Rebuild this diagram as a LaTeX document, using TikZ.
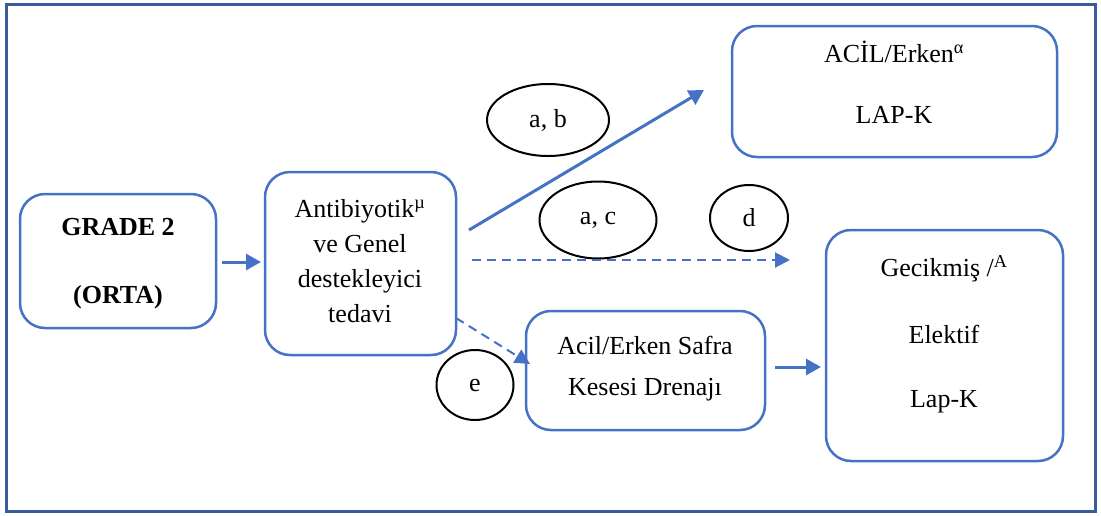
\documentclass[tikz,border=0pt]{standalone}
\usepackage{fontspec}
\setmainfont{Liberation Serif}
\usetikzlibrary{arrows.meta,shapes.geometric}
\definecolor{bl}{HTML}{4472C4}
\definecolor{fr}{HTML}{3A5C9E}
\begin{document}
\begin{tikzpicture}[x=1pt,y=-1pt,
  box/.style={draw=bl,line width=2.5pt,rounded corners=25pt,inner sep=0pt},
  txt/.style={font=\fontsize{26}{35}\selectfont,inner sep=0pt,align=center},
  ell/.style={draw=black,line width=2pt,ellipse,inner sep=0pt,font=\fontsize{26}{30}\selectfont},
  arr/.style={draw=bl,line width=3pt,-{Triangle[length=15pt,width=16pt]}},
  darr/.style={draw=bl,line width=2pt,dash pattern=on 9pt off 6pt,-{Triangle[length=15pt,width=15pt]}}]
\useasboundingbox (0,0) rectangle (1101,515);
\draw[fr,line width=3pt] (6,4) rectangle (1095,511);
% boxes
\node[box,minimum width=196pt,minimum height=134pt] (grade) at (118,261) {};
\node[box,minimum width=191pt,minimum height=183pt] (anti) at (360.5,263.5) {};
\node[box,minimum width=325pt,minimum height=131pt] (acil) at (894.5,91.5) {};
\node[box,minimum width=237pt,minimum height=231pt] (gec) at (944.5,345.5) {};
\node[box,minimum width=239pt,minimum height=119pt] (safra) at (645.5,370.5) {};
% texts
\node[txt,font=\fontsize{26}{35}\selectfont\bfseries] (t1) at (118,227) {GRADE 2};
\node[txt,font=\fontsize{26}{35}\selectfont\bfseries] (t2) at (118,297) {(ORTA)};
\node[txt] (t3) at (360,261) {Antibiyotik\textsuperscript{µ}\\ve Genel\\destekleyici\\tedavi};
\node[txt] (t4) at (894,52) {ACİL/Erken\textsuperscript{α}};
\node[txt] (t5) at (894,115) {LAP-K};
\node[txt] (t6) at (944,269) {Gecikmiş /\textsuperscript{A}};
\node[txt] (t7) at (944,334) {Elektif};
\node[txt] (t8) at (944,402) {Lap-K};
\node[txt] (t9) at (645,345) {Acil/Erken Safra};
\node[txt] (t10) at (645,390) {Kesesi Drenajı};
% ellipses
\node[ell,minimum width=122pt,minimum height=72pt] (eab) at (548,120) {a, b};
\node[ell,minimum width=117pt,minimum height=77pt] (eac) at (598,220) {a, c};
\node[ell,minimum width=78pt,minimum height=66pt] (ed) at (749,218) {d};
\node[ell,minimum width=77pt,minimum height=70pt] (ee) at (475,385) {e};
% connector points
\coordinate (s1) at (469,230);
\coordinate (e1) at (704,90);
\coordinate (s2) at (472,260);
\coordinate (e2) at (790,260);
\coordinate (s3) at (456,318);
\coordinate (e3) at (530,364);
% connectors
\draw[arr] (222,262) -- (261,262);
\draw[arr] (s1) -- (e1);
\draw[darr] (s2) -- (e2);
\draw[darr] (s3) -- (e3);
\draw[arr] (775,367) -- (821,367);
\end{tikzpicture}
\end{document}
